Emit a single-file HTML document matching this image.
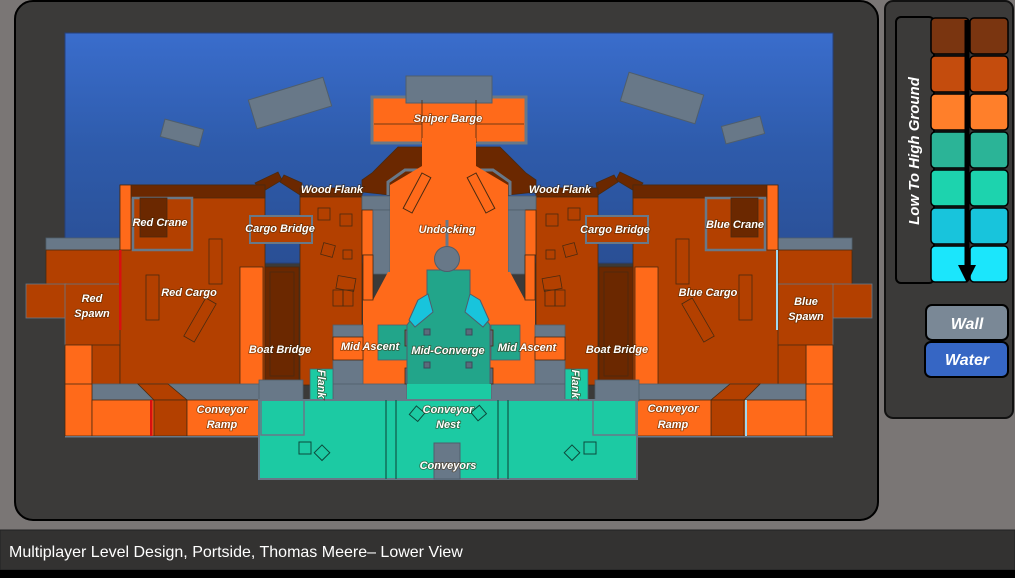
<!DOCTYPE html>
<html><head><meta charset="utf-8"><style>
html,body{margin:0;padding:0;width:1015px;height:578px;overflow:hidden;background:#7a7675;}
svg{display:block}
.lb{font-family:"Liberation Sans",sans-serif;font-style:italic;font-weight:bold;font-size:11px;fill:#fff;stroke:#3a2000;stroke-width:1.6px;paint-order:stroke;stroke-opacity:.55;text-anchor:middle}
</style></head><body>
<svg width="1015" height="578" viewBox="0 0 1015 578">
<defs><linearGradient id="wg" x1="0" y1="0" x2="0" y2="1"><stop offset="0" stop-color="#3a6dcc"/><stop offset="0.5" stop-color="#2e5bab"/><stop offset="1" stop-color="#2a4f95"/></linearGradient></defs>
<rect x="0" y="0" width="1015" height="578" fill="#7a7675"/>
<rect x="15" y="1" width="863" height="519" rx="18" fill="#3b3a39" stroke="#000" stroke-width="2"/>
<rect x="65" y="33" width="768" height="230" fill="url(#wg)" stroke="#26407a"/>
<g fill="#687888" stroke="#4f5e6c">
<rect x="-39" y="-15" width="78" height="30" transform="translate(290,103) rotate(-17)"/>
<rect x="-20" y="-9" width="40" height="18" transform="translate(182,133) rotate(15)"/>
<rect x="-39" y="-15" width="78" height="30" transform="translate(662,98) rotate(17)"/>
<rect x="-20" y="-9" width="40" height="18" transform="translate(743,130) rotate(-15)"/>
</g>
<g id="half" stroke="#4a2a10" stroke-width="0.8">
<polygon points="362,192 362,180 372,173 398,147 423,147 423,166 390,186 390,195" fill="#6b2800"/>
<polygon points="255,183 278,172 282,180 262,192" fill="#6b2800"/>
<polygon points="280,182 284,175 302,183 300,195" fill="#6b2800"/>
<rect x="46" y="238" width="74" height="13" fill="#687888" stroke="#4f5e6c"/>
<rect x="46" y="250" width="74" height="34" fill="#b34000"/>
<rect x="26" y="284" width="40" height="34" fill="#b34000" stroke="#687888"/>
<rect x="65" y="284" width="55" height="62" fill="#b34000" stroke="#687888"/>
<rect x="65" y="345" width="27" height="40" fill="#ff6a1a"/>
<rect x="92" y="345" width="28" height="40" fill="#b34000"/>
<rect x="120" y="185" width="145" height="200" fill="#b34000"/>
<rect x="131" y="185" width="134" height="13" fill="#6b2800"/>
<rect x="120" y="185" width="11" height="65" fill="#ff6a1a"/>
<rect x="133" y="198" width="59" height="52" fill="none" stroke="#687888" stroke-width="2.5"/>
<rect x="140" y="198" width="27" height="39" fill="#6b2800"/>
<rect x="209" y="239" width="13" height="45" fill="none"/>
<rect x="146" y="275" width="13" height="45" fill="none"/>
<rect x="-6" y="-22" width="12" height="44" fill="none" transform="translate(200,320) rotate(30)"/>
<rect x="240" y="267" width="23" height="118" fill="#ff6a1a"/>
<rect x="300" y="192" width="62" height="193" fill="#b34000"/>
<rect x="265" y="267" width="34" height="114" fill="#6b2800"/>
<rect x="270" y="272" width="24" height="104" fill="none"/>
<rect x="300" y="188" width="62" height="9" fill="#6b2800"/>
<rect x="318" y="208" width="12" height="12" fill="none"/><rect x="340" y="214" width="12" height="12" fill="none"/>
<rect x="322" y="244" width="12" height="12" fill="none" transform="rotate(15 328 250)"/><rect x="343" y="250" width="9" height="9" fill="none"/>
<rect x="337" y="277" width="18" height="13" fill="none" transform="rotate(10 346 283)"/><rect x="333" y="290" width="10" height="16" fill="none"/><rect x="343" y="290" width="10" height="16" fill="none"/>
<rect x="250" y="216" width="62" height="27" fill="#b34000" stroke="#687888" stroke-width="2"/>
<rect x="362" y="196" width="28" height="14" fill="#687888" stroke="#4f5e6c"/>
<rect x="362" y="210" width="11" height="45" fill="#ff6a1a"/>
<rect x="373" y="210" width="17" height="64" fill="#687888" stroke="#4f5e6c"/>
<polygon points="388,272 428,272 428,386 363,386 363,300 373,300" fill="#ff6a1a" stroke="none"/>
<rect x="363" y="255" width="10" height="45" fill="#ff6a1a"/>
<rect x="333" y="325" width="30" height="61" fill="#687888" stroke="#4f5e6c"/>
<rect x="333" y="337" width="30" height="23" fill="#ff6a1a"/>
<rect x="378" y="325" width="29" height="35" fill="#22a58a" stroke="#4f5e6c"/>
<rect x="333" y="384" width="74" height="18" fill="#687888" stroke="#4f5e6c"/>
<rect x="92" y="384" width="170" height="17" fill="#687888" stroke="#4f5e6c"/>
<rect x="65" y="384" width="27" height="52" fill="#ff6a1a"/>
<rect x="92" y="400" width="62" height="36" fill="#ff6a1a"/>
<polygon points="138,384 168,384 187,400 154,400" fill="#b34000"/>
<rect x="154" y="400" width="33" height="36" fill="#b34000"/>
<rect x="187" y="400" width="74" height="36" fill="#ff6a1a"/>
<rect x="65" y="436" width="196" height="1.5" fill="#687888" stroke="none"/>
<rect x="259" y="380" width="44" height="21" fill="#687888" stroke="#4f5e6c"/>
<rect x="310" y="369" width="23" height="32" fill="#1ccaa3" stroke="#4f5e6c"/>
<polyline points="388,195 388,182 405,170 420,170" fill="none" stroke="#687888" stroke-width="3"/>
<rect x="-5" y="-20" width="10" height="40" fill="none" transform="translate(422,197) rotate(28)"/>
<polygon points="418,300 428,294 433,312 415,327 409,320" fill="#18c4dc" stroke="#4f5e6c"/>
<rect x="405" y="330" width="4" height="16" fill="#5b6b7b"/><rect x="405" y="368" width="4" height="16" fill="#5b6b7b"/>
</g>
<use href="#half" transform="translate(898,0) scale(-1,1)"/>
<rect x="372" y="97" width="154" height="46" fill="#ff6a1a" stroke="#687888" stroke-width="3"/>
<rect x="406" y="76" width="86" height="27" fill="#687888" stroke="#4f5e6c"/>
<path d="M374 124H422M476 124H524M422 100V143M476 100V143" stroke="#4a2a10" stroke-width="0.8" fill="none"/>
<polygon points="422,138 476,138 476,166 508,185 508,300 390,300 390,185 422,166" fill="#ff6a1a"/>
<rect x="412" y="173" width="10" height="40" fill="none" stroke="#4a2a10" transform="rotate(28 417 193)"/>
<rect x="476" y="173" width="10" height="40" fill="none" stroke="#4a2a10" transform="rotate(-28 481 193)"/>
<line x1="447" y1="220" x2="447" y2="248" stroke="#687888" stroke-width="3"/>
<polygon points="427,270 470,270 470,298 490,325 490,386 407,386 407,325 427,298" fill="#22a58a" stroke="#4f5e6c"/>
<circle cx="447" cy="259" r="12.5" fill="#687888" stroke="#4f5e6c"/>
<g fill="#5b6b7b" stroke="#3a4a5a"><rect x="424" y="329" width="6" height="6"/><rect x="466" y="329" width="6" height="6"/><rect x="424" y="362" width="6" height="6"/><rect x="466" y="362" width="6" height="6"/></g>
<polygon points="418,300 428,294 433,312 415,327 409,320" fill="#18c4dc" stroke="#4f5e6c"/>
<polygon points="480,300 470,294 465,312 483,327 489,320" fill="#18c4dc" stroke="#4f5e6c"/>
<rect x="407" y="384" width="84" height="17" fill="#1ccaa3"/>
<rect x="259" y="400" width="378" height="79" fill="#1ccaa3" stroke="#687888" stroke-width="2"/>
<path d="M386 400V479M396 400V479M498 400V479M508 400V479" stroke="#116e5a" stroke-width="1.5"/>
<rect x="261" y="400" width="43" height="35" fill="none" stroke="#687888" stroke-width="1.5"/>
<rect x="593" y="400" width="43" height="35" fill="none" stroke="#687888" stroke-width="1.5"/>
<rect x="434" y="443" width="26" height="36" fill="#687888" stroke="#4f5e6c"/>
<g fill="none" stroke="#0c4a3c"><rect x="299" y="442" width="12" height="12"/><rect x="317" y="447" width="11" height="11" transform="rotate(45 322 452)"/><rect x="584" y="442" width="12" height="12"/><rect x="567" y="447" width="11" height="11" transform="rotate(45 572 452)"/><rect x="412" y="408" width="11" height="11" transform="rotate(40 417 413)"/><rect x="473" y="408" width="11" height="11" transform="rotate(-40 478 413)"/></g>
<g>
<rect x="119" y="250" width="2.5" height="80" fill="#d81010"/><rect x="150" y="400" width="2.5" height="36" fill="#d81010"/>
<rect x="776" y="250" width="2" height="80" fill="#9fd8f0"/><rect x="745" y="400" width="2" height="36" fill="#9fd8f0"/>
</g>
<g class="lb">
<text x="448" y="122">Sniper Barge</text>
<text x="332" y="193">Wood Flank</text><text x="560" y="193">Wood Flank</text>
<text x="160" y="226">Red Crane</text><text x="735" y="228">Blue Crane</text>
<text x="280" y="232">Cargo Bridge</text><text x="615" y="233">Cargo Bridge</text>
<text x="447" y="233">Undocking</text>
<text x="92" y="302">Red</text><text x="92" y="317">Spawn</text>
<text x="806" y="305">Blue</text><text x="806" y="320">Spawn</text>
<text x="189" y="296">Red Cargo</text><text x="708" y="296">Blue Cargo</text>
<text x="280" y="353">Boat Bridge</text><text x="617" y="353">Boat Bridge</text>
<text x="370" y="350">Mid Ascent</text><text x="527" y="351">Mid Ascent</text>
<text x="448" y="354">Mid-Converge</text>
<text x="222" y="413">Conveyor</text><text x="222" y="428">Ramp</text>
<text x="673" y="412">Conveyor</text><text x="673" y="428">Ramp</text>
<text x="448" y="413">Conveyor</text><text x="448" y="428">Nest</text>
<text x="448" y="469">Conveyors</text>
<text x="0" y="0" transform="translate(318,384) rotate(90)">Flank</text>
<text x="0" y="0" transform="translate(572,384) rotate(90)">Flank</text>
</g>
<g>
<rect x="885" y="1" width="128" height="417" rx="8" fill="#3b3a39" stroke="#111" stroke-width="2"/>
<rect x="896" y="17" width="38" height="266" rx="5" fill="#3b3a39" stroke="#000" stroke-width="2"/>
<text x="0" y="0" transform="translate(919,151) rotate(-90)" font-family="Liberation Sans,sans-serif" font-style="italic" font-weight="bold" font-size="15" fill="#fff" text-anchor="middle">Low To High Ground</text>
<g stroke="#000" stroke-width="1.5">
<rect x="931" y="18" width="38" height="36" rx="4" fill="#7a3510"/><rect x="970" y="18" width="38" height="36" rx="4" fill="#7a3510"/>
<rect x="931" y="56" width="38" height="36" rx="4" fill="#c44c0d"/><rect x="970" y="56" width="38" height="36" rx="4" fill="#c44c0d"/>
<rect x="931" y="94" width="38" height="36" rx="4" fill="#ff7f2a"/><rect x="970" y="94" width="38" height="36" rx="4" fill="#ff7f2a"/>
<rect x="931" y="132" width="38" height="36" rx="4" fill="#2bb497"/><rect x="970" y="132" width="38" height="36" rx="4" fill="#2bb497"/>
<rect x="931" y="170" width="38" height="36" rx="4" fill="#1dd3ae"/><rect x="970" y="170" width="38" height="36" rx="4" fill="#1dd3ae"/>
<rect x="931" y="208" width="38" height="36" rx="4" fill="#18c4dc"/><rect x="970" y="208" width="38" height="36" rx="4" fill="#18c4dc"/>
<rect x="931" y="246" width="38" height="36" rx="4" fill="#1be6fc"/><rect x="970" y="246" width="38" height="36" rx="4" fill="#1be6fc"/>
</g>
<line x1="967" y1="20" x2="967" y2="268" stroke="#000" stroke-width="5"/>
<polygon points="958,265 976,265 967,283" fill="#000"/>
<rect x="926" y="305" width="82" height="35" rx="6" fill="#7a8896" stroke="#000" stroke-width="2"/>
<text x="967" y="329" font-family="Liberation Sans,sans-serif" font-style="italic" font-weight="bold" font-size="16" fill="#fff" text-anchor="middle">Wall</text>
<rect x="925" y="342" width="83" height="35" rx="6" fill="#3666c4" stroke="#000" stroke-width="2"/>
<text x="967" y="365" font-family="Liberation Sans,sans-serif" font-style="italic" font-weight="bold" font-size="16" fill="#fff" text-anchor="middle">Water</text>
</g>
<rect x="0" y="530" width="1015" height="40" fill="#333231" stroke="#222"/>
<rect x="0" y="570" width="1015" height="8" fill="#000"/>
<text x="9" y="557" font-family="Liberation Sans,sans-serif" font-size="16" fill="#fff">Multiplayer Level Design, Portside, Thomas Meere– Lower View</text>
</svg>
</body></html>
